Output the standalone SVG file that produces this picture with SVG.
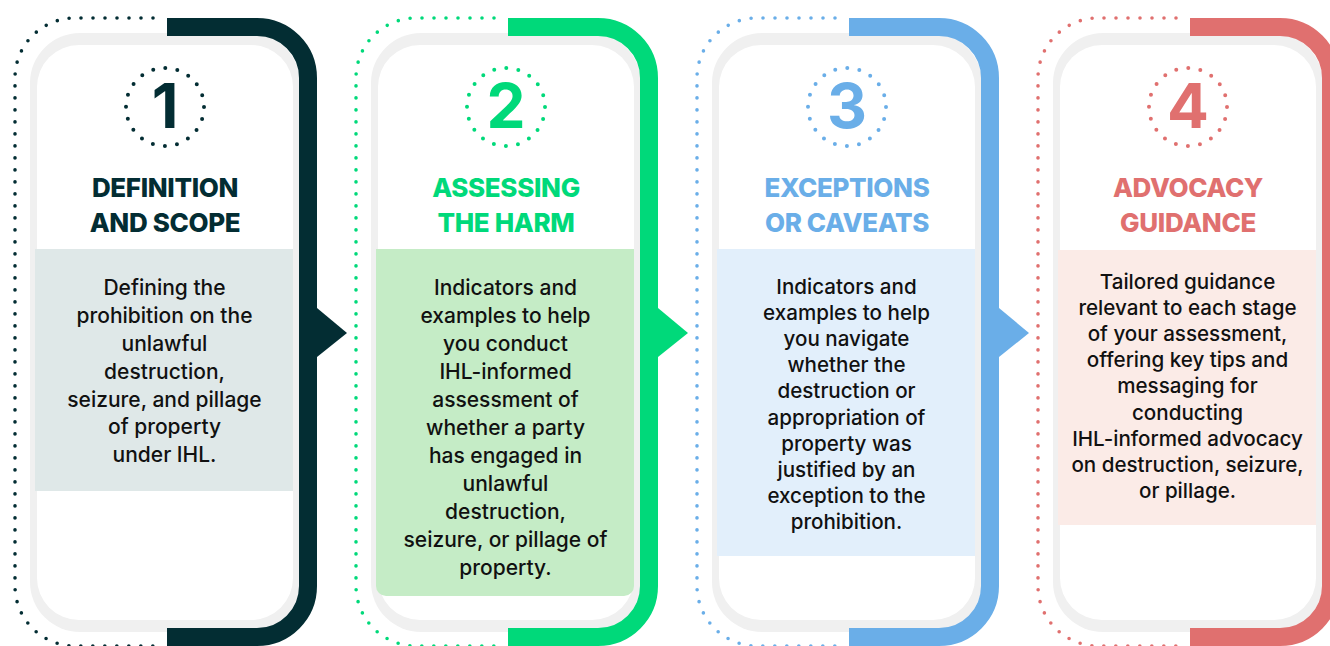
<svg xmlns="http://www.w3.org/2000/svg" width="1330" height="646" viewBox="0 0 1330 646">
<style>
.dots{fill:none;stroke:currentColor;stroke-width:3.6;stroke-linecap:round;stroke-dasharray:0 12}
.band{fill:none;stroke:currentColor;stroke-width:18}
.ring{fill:#f0f0f0}
.inner{fill:#ffffff}
.numring{fill:none;stroke:currentColor;stroke-width:4;stroke-linecap:round;stroke-dasharray:0 12.252}
.num{font-family:Inter,"Liberation Sans",sans-serif;font-weight:700;font-size:62px;fill:currentColor;text-anchor:middle}
.title{font-family:Inter,"Liberation Sans",sans-serif;font-weight:800;font-size:26px;fill:currentColor;text-anchor:middle;letter-spacing:-0.35px}
.body{font-family:Inter,"Liberation Sans",sans-serif;font-weight:500;font-size:21px;fill:#111111;text-anchor:middle}
.body2{font-family:Inter,"Liberation Sans",sans-serif;font-weight:500;font-size:20.6px;fill:#111111;text-anchor:middle}
</style>
<rect width="1330" height="646" fill="#ffffff"/>

<g id="card1" style="color:#032d33">
 <path class="dots" d="M153,18 H75 A60,60 0 0 0 15,78 V586 A60,60 0 0 0 75,646 H160"/>
 <rect class="ring" x="30" y="33" width="270" height="599" rx="50"/>
 <rect class="inner" x="37" y="45" width="256" height="575" rx="42"/>
 <rect fill="#dfe8e8" x="35" y="249" width="258" height="242"/>
 <path class="band" d="M167,27 H257 A51,51 0 0 1 308,78 V586 A51,51 0 0 1 257,637 H167"/>
 <circle class="numring" cx="165" cy="107" r="39"/>
 <text class="num" x="165" y="128">1</text>
 <text class="title" x="165" y="197">DEFINITION</text>
 <text class="title" x="165" y="232">AND SCOPE</text>
 <text class="body" x="164.5" y="295">Defining the</text>
 <text class="body" x="164.5" y="323">prohibition on the</text>
 <text class="body" x="164.5" y="351">unlawful</text>
 <text class="body" x="164.5" y="379">destruction,</text>
 <text class="body" x="164.5" y="407">seizure, and pillage</text>
 <text class="body" x="164.5" y="434">of property</text>
 <text class="body" x="164.5" y="462">under IHL.</text>
</g>

<g id="card2" style="color:#00d97a" transform="translate(341,0)">
 <path class="dots" d="M153,18 H75 A60,60 0 0 0 15,78 V586 A60,60 0 0 0 75,646 H160"/>
 <rect class="ring" x="30" y="33" width="270" height="599" rx="50"/>
 <rect class="inner" x="37" y="45" width="256" height="575" rx="42"/>
 <path fill="#c5ecc6" d="M35,249 H293 V586 A10,10 0 0 1 283,596 H45 A10,10 0 0 1 35,586 Z"/>
 <path class="band" d="M167,27 H257 A51,51 0 0 1 308,78 V586 A51,51 0 0 1 257,637 H167"/>
 <circle class="numring" cx="165" cy="107" r="39"/>
 <text class="num" x="165" y="128">2</text>
 <text class="title" x="165" y="197">ASSESSING</text>
 <text class="title" x="165" y="232">THE HARM</text>
 <text class="body" x="164.5" y="295">Indicators and</text>
 <text class="body" x="164.5" y="323">examples to help</text>
 <text class="body" x="164.5" y="351">you conduct</text>
 <text class="body" x="164.5" y="379">IHL-informed</text>
 <text class="body" x="164.5" y="407">assessment of</text>
 <text class="body" x="164.5" y="435">whether a party</text>
 <text class="body" x="164.5" y="463">has engaged in</text>
 <text class="body" x="164.5" y="491">unlawful</text>
 <text class="body" x="164.5" y="519">destruction,</text>
 <text class="body" x="164.5" y="547">seizure, or pillage of</text>
 <text class="body" x="164.5" y="575">property.</text>
</g>

<g id="card3" style="color:#6aaee8" transform="translate(682,0)">
 <path class="dots" d="M153,18 H75 A60,60 0 0 0 15,78 V586 A60,60 0 0 0 75,646 H160"/>
 <rect class="ring" x="30" y="33" width="270" height="599" rx="50"/>
 <rect class="inner" x="37" y="45" width="256" height="575" rx="42"/>
 <rect fill="#e2effb" x="35" y="249" width="258" height="307"/>
 <path class="band" d="M167,27 H257 A51,51 0 0 1 308,78 V586 A51,51 0 0 1 257,637 H167"/>
 <circle class="numring" cx="165" cy="107" r="39"/>
 <text class="num" x="165" y="128">3</text>
 <text class="title" x="165" y="197">EXCEPTIONS</text>
 <text class="title" x="165" y="232">OR CAVEATS</text>
 <text class="body2" x="164.5" y="294">Indicators and</text>
 <text class="body2" x="164.5" y="320.1">examples to help</text>
 <text class="body2" x="164.5" y="346.2">you navigate</text>
 <text class="body2" x="164.5" y="372.3">whether the</text>
 <text class="body2" x="164.5" y="398.4">destruction or</text>
 <text class="body2" x="164.5" y="424.5">appropriation of</text>
 <text class="body2" x="164.5" y="450.6">property was</text>
 <text class="body2" x="164.5" y="476.7">justified by an</text>
 <text class="body2" x="164.5" y="502.8">exception to the</text>
 <text class="body2" x="164.5" y="528.9">prohibition.</text>
</g>

<g id="card4" style="color:#e0706f" transform="translate(1023,0)">
 <path class="dots" d="M153,18 H75 A60,60 0 0 0 15,78 V586 A60,60 0 0 0 75,646 H160"/>
 <rect class="ring" x="30" y="33" width="270" height="599" rx="50"/>
 <rect class="inner" x="37" y="45" width="256" height="575" rx="42"/>
 <rect fill="#fbebe7" x="35" y="250" width="258" height="275"/>
 <path class="band" d="M167,27 H257 A51,51 0 0 1 308,78 V586 A51,51 0 0 1 257,637 H167"/>
 <circle class="numring" cx="165" cy="107" r="39"/>
 <text class="num" x="165" y="128">4</text>
 <text class="title" x="165" y="197">ADVOCACY</text>
 <text class="title" x="165" y="232">GUIDANCE</text>
 <text class="body2" x="164.5" y="289">Tailored guidance</text>
 <text class="body2" x="164.5" y="315.1">relevant to each stage</text>
 <text class="body2" x="164.5" y="341.2">of your assessment,</text>
 <text class="body2" x="164.5" y="367.3">offering key tips and</text>
 <text class="body2" x="164.5" y="393.4">messaging for</text>
 <text class="body2" x="164.5" y="419.5">conducting</text>
 <text class="body2" x="164.5" y="445.6">IHL-informed advocacy</text>
 <text class="body2" x="164.5" y="471.7">on destruction, seizure,</text>
 <text class="body2" x="164.5" y="497.8">or pillage.</text>
</g>

<g id="connectors">
 <polygon fill="#032d33" points="308,308 317,308 347,333 317,357 308,357"/>
 <polygon fill="#00d97a" points="649,308 658,308 688,333 658,357 649,357"/>
 <polygon fill="#6aaee8" points="990,308 999,308 1029,333 999,357 990,357"/>
</g>
</svg>
